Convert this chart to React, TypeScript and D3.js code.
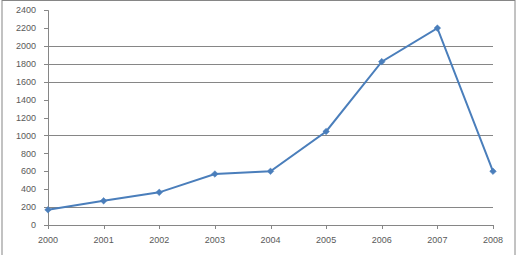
import React from "react";
import * as d3 from "d3";

const years = ["2000", "2001", "2002", "2003", "2004", "2005", "2006", "2007", "2008"];
const values = [170, 270, 365, 570, 600, 1045, 1825, 2200, 600];
const yTicks = [0, 200, 400, 600, 800, 1000, 1200, 1400, 1600, 1800, 2000, 2200, 2400];
const gridValues = [200, 1000, 1600, 1800, 2000];

const W = 517;
const H = 255;
const left = 48;
const right = 493;
const top = 10.2;
const bottom = 225;

export default function App() {
  const x = d3.scalePoint<string>().domain(years).range([left, right]);
  const y = d3.scaleLinear().domain([0, 2400]).range([bottom, top]);
  const line = d3
    .line<number>()
    .x((_, i) => x(years[i]) as number)
    .y((d) => y(d));
  const r = 3.3;
  const diamond = `M0,${-r}L${r},0L0,${r}L${-r},0Z`;
  const axisColor = "#868686";
  const textColor = "#595959";
  const font = "'Liberation Sans', Arial, sans-serif";

  return (
    <svg
      width={W}
      height={H}
      style={{ position: "absolute", left: 0, top: 0, background: "#fff" }}
    >
      <rect x={2} y={0.5} width={513} height={260} fill="#fff" stroke="#868686" strokeWidth={1} />
      {gridValues.map((v) => (
        <line
          key={"g" + v}
          x1={left}
          x2={right}
          y1={Math.round(y(v)) + 0.5}
          y2={Math.round(y(v)) + 0.5}
          stroke={axisColor}
          strokeWidth={1}
        />
      ))}
      <line x1={left + 0.5} x2={left + 0.5} y1={top} y2={bottom + 0.5} stroke={axisColor} />
      {yTicks.map((v) => (
        <g key={"yt" + v}>
          <line
            x1={left - 4}
            x2={left}
            y1={Math.round(y(v)) + 0.5}
            y2={Math.round(y(v)) + 0.5}
            stroke={axisColor}
          />
          <text
            x={36}
            y={y(v)}
            dy="0.35em"
            textAnchor="end"
            fontSize={9}
            fontFamily={font}
            fill={textColor}
          >
            {v}
          </text>
        </g>
      ))}
      <line x1={left} x2={right} y1={Math.round(bottom) + 0.5} y2={Math.round(bottom) + 0.5} stroke={axisColor} />
      {years.map((yr) => (
        <g key={"xt" + yr}>
          <line
            x1={Math.round(x(yr) as number) + 0.5}
            x2={Math.round(x(yr) as number) + 0.5}
            y1={bottom}
            y2={bottom + 4}
            stroke={axisColor}
          />
          <text
            x={x(yr) as number}
            y={243}
            textAnchor="middle"
            fontSize={9}
            fontFamily={font}
            fill={textColor}
          >
            {yr}
          </text>
        </g>
      ))}
      <path d={line(values) || ""} fill="none" stroke="#4a7ebb" strokeWidth={2} />
      {values.map((v, i) => (
        <path
          key={"m" + i}
          d={diamond}
          transform={`translate(${x(years[i])},${y(v)})`}
          fill="#4a7ebb"
          stroke="#4a7ebb"
          strokeWidth={0.5}
        />
      ))}
    </svg>
  );
}
